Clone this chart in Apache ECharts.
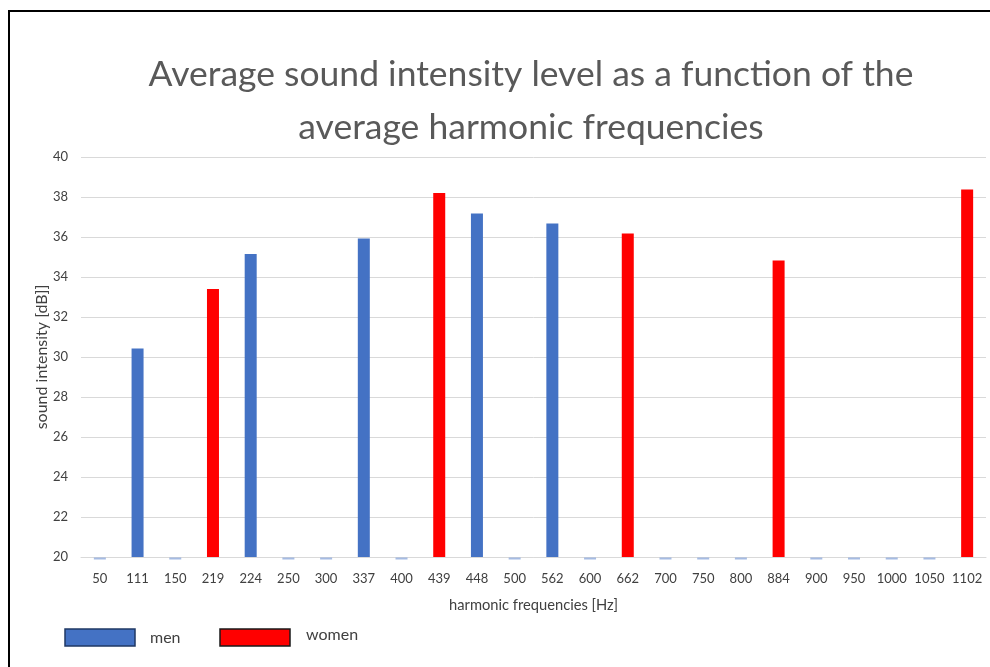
<!DOCTYPE html>
<html><head><meta charset="utf-8">
<script src="https://cdn.jsdelivr.net/npm/echarts@6/dist/echarts.min.js"></script>
<style>html,body{margin:0;padding:0;background:#fff;}#frame{position:absolute;left:8px;top:10px;width:1000px;height:700px;border-left:2px solid #000;border-top:2px solid #000;box-sizing:border-box;}#c{position:absolute;left:0;top:0;width:990px;height:667px;}</style>
</head><body>
<div id="frame"></div>
<div id="c"></div>
<script>
const categories = ['50','111','150','219','224','250','300','337','400','439','448','500','562','600','662','700','750','800','884','900','950','1000','1050','1102'];
const men =   [null, 30.43, null, null, 35.15, null, null, 35.92, null, null, 37.17, null, 36.67, null, null, null, null, null, null, null, null, null, null, null];
const menZero = [20, null, 20, null, null, 20, 20, null, 20, null, null, 20, null, 20, null, 20, 20, 20, null, 20, 20, 20, 20, null];
const women = [null, null, null, 33.4, null, null, null, null, null, 38.2, null, null, null, null, 36.18, null, null, null, 34.83, null, null, null, null, 38.38];
const yTicks = [20,22,24,26,28,30,32,34,36,38,40];

const font = 'Lato, "Open Sans", sans-serif';
const chart = echarts.init(document.getElementById('c'));
chart.setOption({
  animation: false,
  title: {
    text: 'Average sound intensity level as a function of the\naverage harmonic frequencies',
    left: 526, top: 43, textAlign: 'center',
    textStyle: {fontFamily: font, fontSize: 35.5, fontWeight: 'normal', color: '#595959', lineHeight: 53}
  },
  legend: {show: false},
  grid: {left: 81, right: 4, top: 157, bottom: 110},
  xAxis: {
    type: 'category', data: categories,
    axisLine: {lineStyle: {color: '#d9d9d9', width: 1}},
    axisTick: {show: false},
    axisLabel: {color: '#404040', fontFamily: font, fontSize: 13, margin: 15, interval: 0},
    name: 'harmonic frequencies [Hz]', nameLocation: 'middle', nameGap: 41,
    nameTextStyle: {color: '#404040', fontFamily: font, fontSize: 14.7}
  },
  yAxis: {
    type: 'value', min: yTicks[0], max: yTicks[yTicks.length-1], interval: 2,
    axisLine: {show: false}, axisTick: {show: false},
    splitLine: {lineStyle: {color: '#d9d9d9', width: 1}},
    axisLabel: {color: '#404040', fontFamily: font, fontSize: 13, margin: 13},
    name: 'sound intensity [dB]]', nameLocation: 'middle', nameGap: 31, nameMoveOverlap: false,
    nameTextStyle: {color: '#404040', fontFamily: font, fontSize: 16}
  },
  series: [
    {name: 'men', type: 'bar', data: men, barWidth: 12, barGap: '-100%', itemStyle: {color: '#4472c4'}},
    {name: 'women', type: 'bar', data: women, barWidth: 12, barGap: '-100%', itemStyle: {color: '#ff0000'}},
    {name: 'menZero', type: 'scatter', data: menZero, symbol: 'rect', symbolSize: [12, 2], symbolOffset: [0, 1.5],
     itemStyle: {color: '#8faadc'}, z: 3}
  ],
  graphic: [
    {type: 'rect', shape: {x: 65, y: 629, width: 70, height: 17}, style: {fill: '#4472c4', stroke: '#1f3864', lineWidth: 1.5}},
    {type: 'text', x: 150, y: 638, style: {text: 'men', fill: '#404040', font: '16px ' + font, verticalAlign: 'middle'}},
    {type: 'rect', shape: {x: 220, y: 629, width: 70, height: 17}, style: {fill: '#ff0000', stroke: '#1a1a1a', lineWidth: 1.5}},
    {type: 'text', x: 306, y: 635, style: {text: 'women', fill: '#404040', font: '16px ' + font, verticalAlign: 'middle'}}
  ]
});
</script>
</body></html>
